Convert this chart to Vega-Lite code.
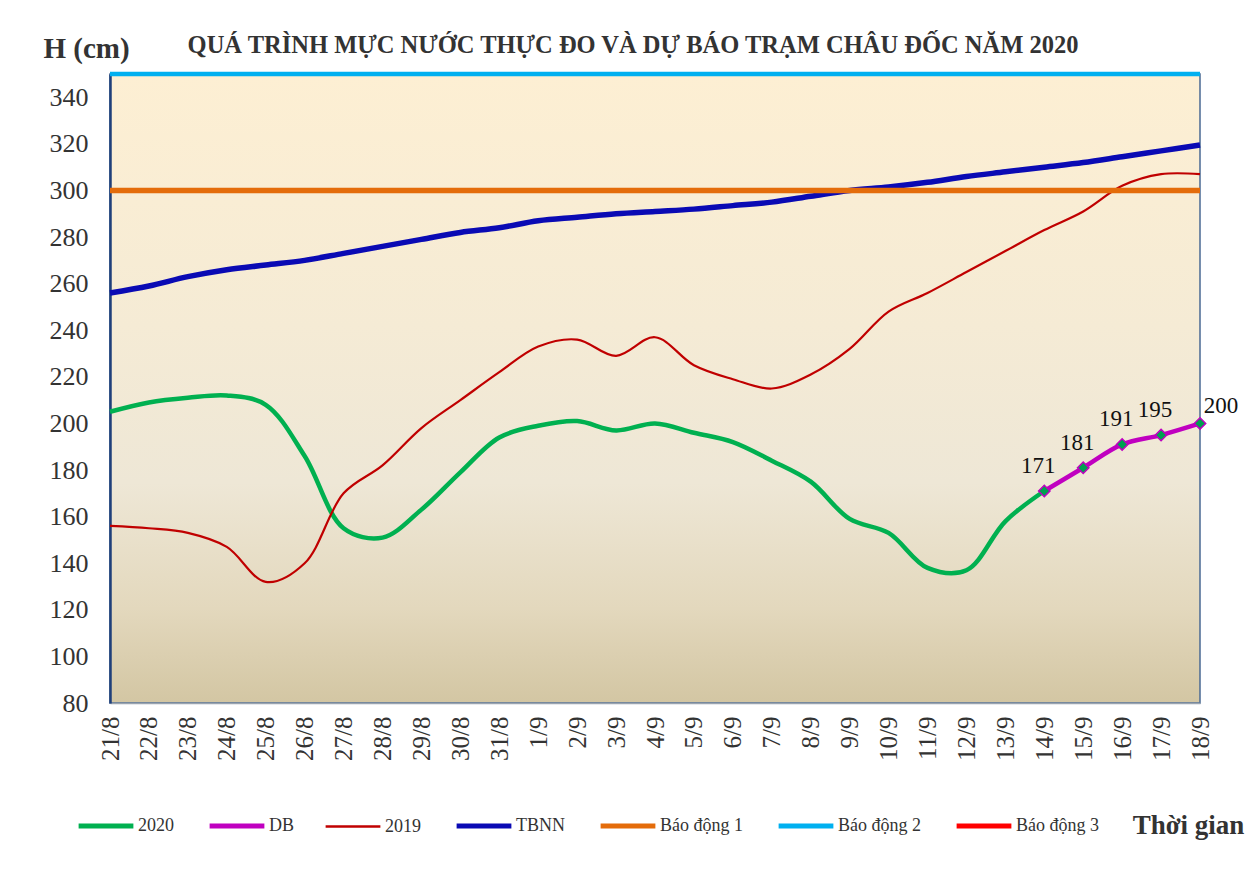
{
  "$schema": "https://vega.github.io/schema/vega-lite/v6.json",
  "width": 1090,
  "height": 629,
  "autosize": {"type": "none"},
  "padding": {"left": 110, "top": 74, "right": 47, "bottom": 171},
  "background": "white",
  "config": {
    "font": "Liberation Serif",
    "view": {
      "stroke": "#4A6A94",
      "strokeWidth": 1.5,
      "fill": {"gradient": "linear", "x1": 0, "y1": 0, "x2": 0, "y2": 1,
        "stops": [
          {"offset": 0, "color": "#FDEFD3"},
          {"offset": 0.4, "color": "#F5EBD5"},
          {"offset": 0.65, "color": "#EEE7D6"},
          {"offset": 0.85, "color": "#E3D8BD"},
          {"offset": 1, "color": "#D3C6A3"}
        ]}
    }
  },
  "title": {
    "text": "QUÁ TRÌNH MỰC NƯỚC THỰC ĐO VÀ DỰ BÁO TRẠM CHÂU ĐỐC NĂM  2020",
    "font": "Liberation Serif",
    "fontSize": 24.5,
    "fontWeight": "bold",
    "color": "#333333",
    "anchor": "middle",
    "offset": 12,
    "dx": -22,
    "dy": 36
  },
  "datasets": {
    "series": [
      {"d": "21/8", "s": "2020", "v": 205}, {"d": "22/8", "s": "2020", "v": 209}, {"d": "23/8", "s": "2020", "v": 211},
      {"d": "24/8", "s": "2020", "v": 212}, {"d": "25/8", "s": "2020", "v": 208}, {"d": "26/8", "s": "2020", "v": 186},
      {"d": "27/8", "s": "2020", "v": 155}, {"d": "28/8", "s": "2020", "v": 151}, {"d": "29/8", "s": "2020", "v": 163},
      {"d": "30/8", "s": "2020", "v": 179}, {"d": "31/8", "s": "2020", "v": 194}, {"d": "1/9", "s": "2020", "v": 199},
      {"d": "2/9", "s": "2020", "v": 201}, {"d": "3/9", "s": "2020", "v": 197}, {"d": "4/9", "s": "2020", "v": 200},
      {"d": "5/9", "s": "2020", "v": 196}, {"d": "6/9", "s": "2020", "v": 192}, {"d": "7/9", "s": "2020", "v": 184},
      {"d": "8/9", "s": "2020", "v": 175}, {"d": "9/9", "s": "2020", "v": 159}, {"d": "10/9", "s": "2020", "v": 153},
      {"d": "11/9", "s": "2020", "v": 138}, {"d": "12/9", "s": "2020", "v": 137}, {"d": "13/9", "s": "2020", "v": 158},
      {"d": "14/9", "s": "2020", "v": 171},
      {"d": "14/9", "s": "DB", "v": 171}, {"d": "15/9", "s": "DB", "v": 181}, {"d": "16/9", "s": "DB", "v": 191},
      {"d": "17/9", "s": "DB", "v": 195}, {"d": "18/9", "s": "DB", "v": 200},
      {"d": "21/8", "s": "2019", "v": 156}, {"d": "22/8", "s": "2019", "v": 155}, {"d": "23/8", "s": "2019", "v": 153},
      {"d": "24/8", "s": "2019", "v": 147}, {"d": "25/8", "s": "2019", "v": 132}, {"d": "26/8", "s": "2019", "v": 140},
      {"d": "27/8", "s": "2019", "v": 170}, {"d": "28/8", "s": "2019", "v": 182}, {"d": "29/8", "s": "2019", "v": 198},
      {"d": "30/8", "s": "2019", "v": 210}, {"d": "31/8", "s": "2019", "v": 222}, {"d": "1/9", "s": "2019", "v": 233},
      {"d": "2/9", "s": "2019", "v": 236}, {"d": "3/9", "s": "2019", "v": 229}, {"d": "4/9", "s": "2019", "v": 237},
      {"d": "5/9", "s": "2019", "v": 225}, {"d": "6/9", "s": "2019", "v": 219}, {"d": "7/9", "s": "2019", "v": 215},
      {"d": "8/9", "s": "2019", "v": 221}, {"d": "9/9", "s": "2019", "v": 232}, {"d": "10/9", "s": "2019", "v": 248},
      {"d": "11/9", "s": "2019", "v": 256}, {"d": "12/9", "s": "2019", "v": 265}, {"d": "13/9", "s": "2019", "v": 274},
      {"d": "14/9", "s": "2019", "v": 283}, {"d": "15/9", "s": "2019", "v": 291}, {"d": "16/9", "s": "2019", "v": 302},
      {"d": "17/9", "s": "2019", "v": 307}, {"d": "18/9", "s": "2019", "v": 307},
      {"d": "21/8", "s": "TBNN", "v": 256}, {"d": "22/8", "s": "TBNN", "v": 259}, {"d": "23/8", "s": "TBNN", "v": 263},
      {"d": "24/8", "s": "TBNN", "v": 266}, {"d": "25/8", "s": "TBNN", "v": 268}, {"d": "26/8", "s": "TBNN", "v": 270},
      {"d": "27/8", "s": "TBNN", "v": 273}, {"d": "28/8", "s": "TBNN", "v": 276}, {"d": "29/8", "s": "TBNN", "v": 279},
      {"d": "30/8", "s": "TBNN", "v": 282}, {"d": "31/8", "s": "TBNN", "v": 284}, {"d": "1/9", "s": "TBNN", "v": 287},
      {"d": "2/9", "s": "TBNN", "v": 288.5}, {"d": "3/9", "s": "TBNN", "v": 290}, {"d": "4/9", "s": "TBNN", "v": 291},
      {"d": "5/9", "s": "TBNN", "v": 292}, {"d": "6/9", "s": "TBNN", "v": 293.5}, {"d": "7/9", "s": "TBNN", "v": 295},
      {"d": "8/9", "s": "TBNN", "v": 297.5}, {"d": "9/9", "s": "TBNN", "v": 300}, {"d": "10/9", "s": "TBNN", "v": 301.5},
      {"d": "11/9", "s": "TBNN", "v": 303.5}, {"d": "12/9", "s": "TBNN", "v": 306}, {"d": "13/9", "s": "TBNN", "v": 308},
      {"d": "14/9", "s": "TBNN", "v": 310}, {"d": "15/9", "s": "TBNN", "v": 312}, {"d": "16/9", "s": "TBNN", "v": 314.5},
      {"d": "17/9", "s": "TBNN", "v": 317}, {"d": "18/9", "s": "TBNN", "v": 319.5},
      {"d": "21/8", "s": "Báo động 1", "v": 300}, {"d": "18/9", "s": "Báo động 1", "v": 300},
      {"d": "21/8", "s": "Báo động 2", "v": 350}, {"d": "18/9", "s": "Báo động 2", "v": 350}
    ]
  },
  "data": {"name": "series"},
  "encoding": {
    "x": {
      "field": "d", "type": "ordinal", "sort": null,
      "scale": {"type": "point", "padding": 0,
        "domain": ["21/8","22/8","23/8","24/8","25/8","26/8","27/8","28/8","29/8","30/8","31/8","1/9","2/9","3/9","4/9","5/9","6/9","7/9","8/9","9/9","10/9","11/9","12/9","13/9","14/9","15/9","16/9","17/9","18/9"]},
      "axis": {
        "title": "Thời gian",
        "titleFont": "Liberation Serif", "titleFontSize": 27, "titleFontWeight": "bold", "titleColor": "#333333",
        "titleX": 1078, "titleY": 122, "titleAlign": "center", "titleBaseline": "middle", "titleAnchor": null,
        "labelAngle": -90, "labelFont": "Liberation Serif", "labelFontSize": 25, "labelColor": "#333333",
        "labelPadding": 13, "ticks": false, "domainColor": "#9AA4B0", "domainWidth": 1.5, "labelBound": false, "labelOverlap": false
      }
    },
    "y": {
      "field": "v", "type": "quantitative",
      "scale": {"domain": [80, 350], "nice": false, "zero": false},
      "axis": {
        "values": [80,100,120,140,160,180,200,220,240,260,280,300,320,340],
        "title": "H (cm)", "titleAngle": 0, "titleX": -24, "titleY": -26,
        "titleAlign": "center", "titleBaseline": "middle",
        "titleFont": "Liberation Serif", "titleFontSize": 29, "titleFontWeight": "bold", "titleColor": "#333333",
        "labelFont": "Liberation Serif", "labelFontSize": 26, "labelColor": "#333333", "labelPadding": 22,
        "ticks": false, "grid": false, "domainColor": "#1F3F7A", "domainWidth": 2.5
      }
    },
    "color": {
      "field": "s", "type": "nominal",
      "scale": {
        "domain": ["2020", "DB", "2019", "TBNN", "Báo động 1", "Báo động 2", "Báo động 3"],
        "range": ["#00B050", "#C000C0", "#C00000", "#0A0AB4", "#E46C0A", "#00B0F0", "#FF0000"]
      },
      "legend": {
        "title": null, "orient": "none", "direction": "horizontal",
        "legendX": -13, "legendY": 743,
        "symbolType": "stroke", "symbolSize": 3000, "symbolStrokeWidth": 5,
        "labelFont": "Liberation Serif", "labelFontSize": 18, "labelColor": "#333333",
        "labelOffset": 23, "columnPadding": 25,
        "encode": {"symbols": {"update": {"strokeWidth": {"signal": "datum.value === '2019' ? 2.5 : 5"}}}}
      }
    }
  },
  "layer": [
    {
      "transform": [{"filter": "datum.s === '2020' || datum.s === 'DB'"}],
      "mark": {"type": "line", "interpolate": "catmull-rom", "strokeWidth": 4.5, "strokeCap": "butt"}
    },
    {
      "transform": [{"filter": "datum.s === '2019'"}],
      "mark": {"type": "line", "interpolate": "catmull-rom", "strokeWidth": 2.2}
    },
    {
      "transform": [{"filter": "datum.s === 'TBNN' || datum.s === 'Báo động 1'"}],
      "mark": {"type": "line", "interpolate": "catmull-rom", "strokeWidth": 5.5}
    },
    {
      "transform": [{"filter": "datum.s === 'Báo động 2'"}],
      "mark": {"type": "line", "strokeWidth": 4.5}
    },
    {
      "transform": [{"filter": "datum.s === 'DB'"}],
      "mark": {"type": "point", "shape": "diamond", "filled": true, "fill": "#00A050", "stroke": "#C000C0", "strokeWidth": 1.5, "size": 130, "opacity": 1},
      "encoding": {"color": {"value": "#00A050"}}
    },
    {
      "transform": [{"filter": "datum.s === 'DB' && datum.v < 200"}],
      "mark": {"type": "text", "font": "Liberation Serif", "fontSize": 23, "dx": -6, "dy": -25, "align": "center", "baseline": "middle"},
      "encoding": {"text": {"field": "v", "type": "quantitative"}, "color": {"value": "#111111"}}
    },
    {
      "transform": [{"filter": "datum.s === 'DB' && datum.v >= 200"}],
      "mark": {"type": "text", "font": "Liberation Serif", "fontSize": 23, "dx": 21, "dy": -17, "align": "center", "baseline": "middle"},
      "encoding": {"text": {"field": "v", "type": "quantitative"}, "color": {"value": "#111111"}}
    }
  ]
}
